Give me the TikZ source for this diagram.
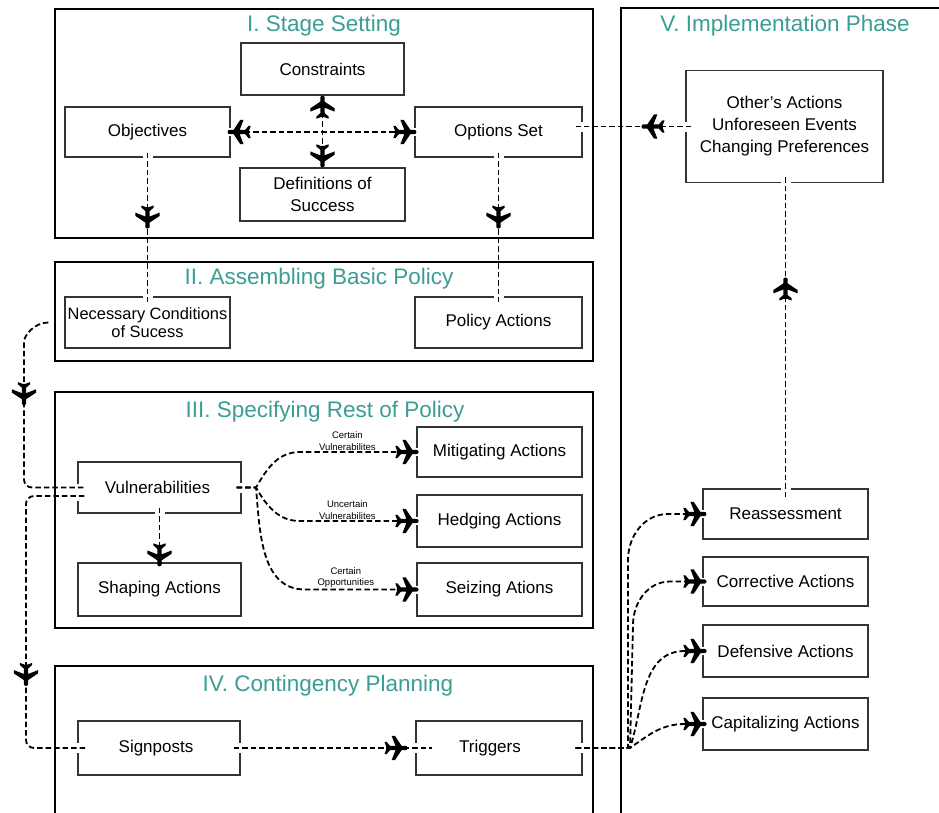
\documentclass[tikz,border=0pt]{standalone}
\usepackage{fontspec}
\setmainfont{Liberation Sans}
\usetikzlibrary{decorations.markings,calc}
\definecolor{tealtitle}{RGB}{58,158,148}
\newcommand\myplane{(0,0) .. controls (-0.6,2) .. (-3,2) -- (-5.5,2) -- (-11.5,11) -- (-14.5,11) -- (-11,2) -- (-16,2) -- (-19,5.5) -- (-21,5.5) -- (-19.5,1.4) -- (-19.5,-1.4) -- (-21,-5.5) -- (-19,-5.5) -- (-16,-2) -- (-11,-2) -- (-14.5,-11) -- (-11.5,-11) -- (-5.5,-2) -- (-3,-2) .. controls (-0.6,-2) .. (0,0) -- cycle}
\newcommand\hgap[2][10]{\fill[white] (#2) ++(-#1/2,-2.5) rectangle ++(#1,5);}
\newcommand\vgap[2][10]{\fill[white] (#2) ++(-2.5,-#1/2) rectangle ++(5,#1);}
\tikzset{
  conn/.style={line width=1.8pt, dash pattern=on 5.5pt off 3pt, black},
  plane at/.style={postaction={decorate,decoration={markings,mark=at position #1 with {\fill[black,sharp corners,scale=1.1] \myplane;}}}},
  plane back/.style={postaction={decorate,decoration={markings,mark=at position #1 with {\fill[black,sharp corners,xscale=-1.1,yscale=1.1] \myplane;}}}},
  box/.style={draw=black!80, line width=1.2pt, inner sep=2pt, align=center,
    font=\fontsize{17}{22}\selectfont, minimum width=165pt, minimum height=50pt},
  sec/.style={line width=2.4pt, black},
  ttl/.style={text=tealtitle, font=\fontsize{22.5}{27}\selectfont, inner sep=1pt},
  lbl/.style={font=\fontsize{9.5}{11.5}\selectfont, align=center, inner sep=1pt}
}
\begin{document}
\begin{tikzpicture}[x=1pt,y=-1pt]
\useasboundingbox (0,0) rectangle (939,812);
\clip (0,0) rectangle (939,812);
\fill[white] (0,0) rectangle (939,812);
% sections
\draw[sec] (55,9) rectangle (593,238);
\draw[sec] (55,262) rectangle (593,361);
\draw[sec] (55,392) rectangle (593,628);
\draw[sec] (55,666) rectangle (593,840);
\draw[sec] (621,8) rectangle (960,840);
% titles
\node[ttl] (t1) at (324,26) {I. Stage Setting};
\node[ttl] (t2) at (319,279) {II. Assembling Basic Policy};
\node[ttl] (t3) at (325,412) {III. Specifying Rest of Policy};
\node[ttl] (t4) at (328,686) {IV. Contingency Planning};
\node[ttl] (t5) at (785,26) {V. Implementation Phase};
% boxes
\node[box, minimum width=163pt, minimum height=52pt] (con) at (322.5,69) {Constraints};
\node[box] (obj) at (147.5,132) {Objectives};
\node[box, minimum width=167pt] (opt) at (498.5,132) {Options Set};
\node[box, minimum height=53pt] (def) at (322.5,194.5) {Definitions of\\Success};
\node[box, minimum height=51pt, font=\fontsize{16.4}{18.5}\selectfont] (nec) at (147.5,322.5) {Necessary Conditions\\of Sucess};
\node[box, minimum width=167pt, minimum height=51pt] (pol) at (498.5,322.5) {Policy Actions};
\node[box, minimum width=163pt, minimum height=51pt] (vul) at (159.5,487.5) {\hspace*{-4pt}Vulnerabilities};
\node[box, minimum width=163pt, minimum height=53pt] (sha) at (159.5,589.5) {Shaping Actions};
\node[box] (mit) at (499.5,452) {Mitigating Actions};
\node[box, minimum height=52pt] (hed) at (499.5,521) {Hedging Actions};
\node[box, minimum height=53pt] (sei) at (499.5,589.5) {Seizing Ations};
\node[box, minimum width=162pt, minimum height=54pt] (sig) at (159,748) {\hspace*{-6pt}Signposts};
\node[box, minimum width=166pt, minimum height=54pt] (tri) at (499,748) {\hspace*{-18pt}Triggers};
\node[box, minimum width=197pt, minimum height=112pt] (oth) at (784.5,126.5) {Other{\char"27}s Actions\\Unforeseen Events\\Changing Preferences};
\node[box] (rea) at (785.5,514) {Reassessment};
\node[box, minimum height=49pt] (cor) at (785.5,581.5) {Corrective Actions};
\node[box, minimum height=52pt] (dfn) at (785.5,651) {Defensive Actions};
\node[box, minimum height=52pt] (cap) at (785.5,724) {Capitalizing Actions};
% gaps in box borders
\hgap{obj.south} \hgap{nec.north}
\hgap{opt.south} \hgap{pol.north}
\vgap{opt.east |- oth.west} \vgap{oth.west}
\vgap[8]{obj.east} \vgap[8]{opt.west}
\hgap{rea.north |- oth.south} \hgap{rea.north}
\vgap[17]{$(vul.west)+(0,4.5)$}
\vgap{vul.east} \hgap{vul.south}
\vgap{sig.west} \vgap{sig.east} \vgap{tri.west} \vgap{tri.east}
\vgap[8]{rea.west} \vgap[8]{cor.west} \vgap[8]{dfn.west} \vgap[8]{cap.west}
\vgap[8]{mit.west} \vgap[8]{hed.west} \vgap[8]{sei.west}
% connectors: stage setting
\draw[conn, plane at=1, plane back=0] (con.south) -- (def.north);
\draw[conn, plane at=1, plane back=0] ([xshift=-3pt]obj.east) -- ([xshift=2pt]opt.west);
\draw[conn, plane at=76pt] ([yshift=5pt]obj.south) -- ([yshift=-6pt]nec.north);
\draw[conn, plane at=76pt] ([yshift=5pt]opt.south) -- ([yshift=-6pt]pol.north);
\draw[conn, plane at=50pt] ([xshift=6pt]oth.west) -- ($(opt.east |- oth.west)+(-7,0)$);
\draw[conn, plane at=220pt] ([yshift=-9pt]rea.north) -- ($(rea.north |- oth.south)+(0,-7)$);
% left side
\draw[conn, rounded corners=8pt, plane at=97pt] ([xshift=-16pt]nec.west) to[out=180,in=90] (24,350) |- ([xshift=7pt]vul.west);
\draw[conn, rounded corners=8pt, plane at=245pt] ($(vul.west)+(7,8.5)$) -| (26,600) |- ([xshift=9pt]sig.west);
\draw[conn, plane at=1] ([yshift=6pt]vul.south) -- ([yshift=-4pt]sha.north);
% vulnerabilities fan
\draw[conn, plane at=1] ($(vul.east)+(-5,0)$) -- (256,487.5) to[out=60,in=180] (300,452)
  -- node[lbl, above, pos=0.4] (l1) {Certain\\Vulnerabilites} ([xshift=2pt]mit.west);
\draw[conn, plane at=1] ($(vul.east)+(-5,0)$) -- (256,487.5) to[out=-60,in=180] (300,521)
  -- node[lbl, above, pos=0.4] (l2) {Uncertain\\Vulnerabilites} ([xshift=2pt]hed.west);
\draw[conn, plane at=1] ($(vul.east)+(-5,0)$) -- (256,487.5) to[out=-85,in=180] (305,589.5)
  -- node[lbl, above, pos=0.36] (l3) {Certain\\Opportunities} ([xshift=2pt]sei.west);
% contingency
\draw[conn, plane at=174pt] ([xshift=-7pt]sig.east) -- ([xshift=17pt]tri.west);
\draw[conn, plane at=1] ([xshift=-7pt]tri.east) -- (628,748) -- (628,560) to[out=90,in=180] (668,514) -- ([xshift=4pt]rea.west);
\draw[conn, plane at=1] ([xshift=-7pt]tri.east) -- (630,748) -- (633,625) to[out=90,in=180] (670,581.5) -- ([xshift=4pt]cor.west);
\draw[conn, plane at=1] ([xshift=-7pt]tri.east) -- (630,748) to[out=72,in=180] (685,651) -- ([xshift=4pt]dfn.west);
\draw[conn, plane at=1] ([xshift=-7pt]tri.east) -- (630,748) to[out=35,in=180] (685,724) -- ([xshift=4pt]cap.west);
\end{tikzpicture}
\end{document}
